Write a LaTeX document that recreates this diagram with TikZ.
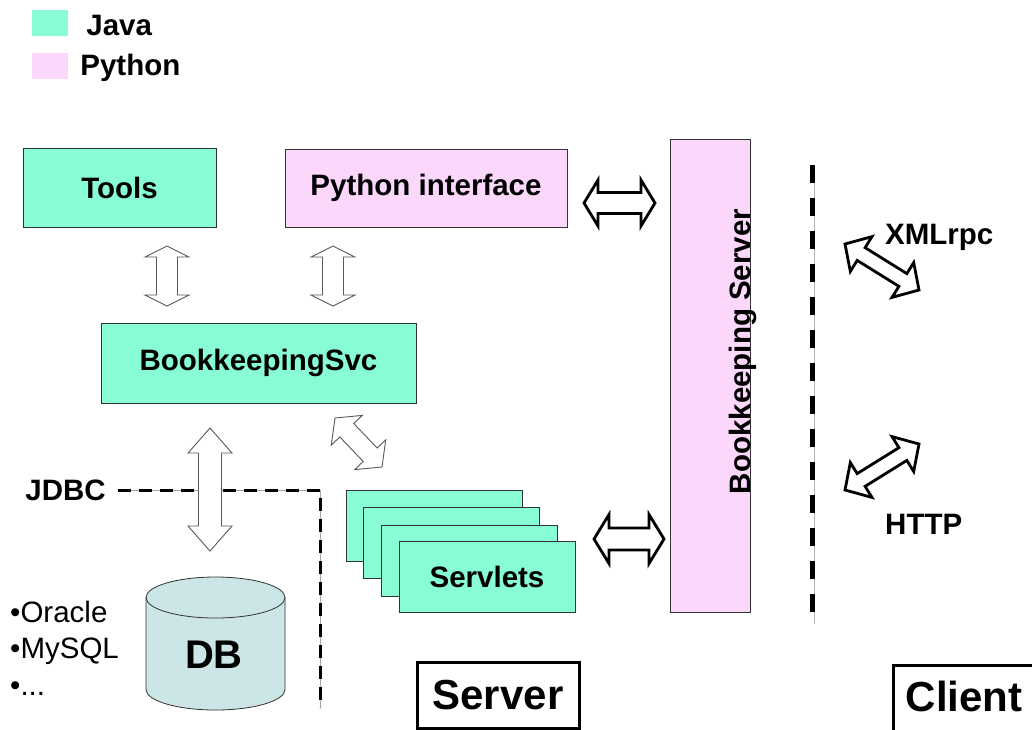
\documentclass[tikz,border=0pt]{standalone}
\usepackage{fontspec}
\setmainfont{Liberation Sans}
\usetikzlibrary{positioning,calc}

\definecolor{javagreen}{RGB}{136,252,212}
\definecolor{pypink}{RGB}{251,215,251}
\definecolor{dbblue}{RGB}{204,229,230}

% hollow double arrow: [style]{from}{to}{head length}{head half width}{shaft half width}
\newcommand{\dblarrow}[6][]{%
  \coordinate (da1) at ($(#2)!#4pt!(#3)$);
  \coordinate (da2) at ($(#3)!#4pt!(#2)$);
  \draw[#1] (#2) -- ($(da1)!#5pt!90:(#3)$) -- ($(da1)!#6pt!90:(#3)$)
    -- ($(da2)!#6pt!-90:(#2)$) -- ($(da2)!#5pt!-90:(#2)$) -- (#3)
    -- ($(da2)!#5pt!90:(#2)$) -- ($(da2)!#6pt!90:(#2)$)
    -- ($(da1)!#6pt!-90:(#3)$) -- ($(da1)!#5pt!-90:(#3)$) -- cycle;
}

\begin{document}
\begin{tikzpicture}[
  x=1pt, y=-1pt,
  every node/.style={font=\fontsize{29.5}{34}\selectfont\bfseries, inner sep=0pt},
  java/.style={draw=black!80, line width=1pt, fill=javagreen},
  python/.style={draw=black!80, line width=1pt, fill=pypink},
  tag/.style={draw=black, line width=3pt, font=\fontsize{42}{48}\selectfont\bfseries},
  plain/.style={font=\fontsize{29.5}{34}\selectfont},
  thinarrow/.style={draw=black!65, line width=0.9pt, fill=white},
  fatarrow/.style={draw=black, line width=2.8pt, fill=white, line join=miter},
  sepline/.style={line width=5pt, dash pattern=on 18pt off 15pt},
  jdbcline/.style={line width=3pt, dash pattern=on 13pt off 8pt}
]
\clip (0,0) rectangle (1032,729);

% Legend
\node[fill=javagreen, minimum width=36pt, minimum height=26pt] (javakey) at (50,23) {};
\node[right=18pt of javakey, yshift=-2pt] (javatxt) {Java};
\node[fill=pypink, minimum width=36pt, minimum height=26pt] (pykey) at (50,66) {};
\node[right=12pt of pykey, yshift=-2pt] (pytxt) {Python};

% Boxes
\node[java, minimum width=193pt, minimum height=79pt] (tools) at (119.5,188) {Tools};
\node[python, minimum width=282pt, minimum height=78pt] (pyif) at (426,188) {Python interface};
\node[java, minimum width=315pt, minimum height=80pt] (bksvc) at (258.5,363) {BookkeepingSvc};
\node[python, minimum width=80pt, minimum height=473pt] (bksrv) at (710.5,375.5) {};
\node[rotate=90, anchor=base] (bksrvtxt) at (750,351.5) {Bookkeeping Server};

% Servlets stack
\node[java, minimum width=176pt, minimum height=71pt] (sv1) at (434,525.5) {};
\node[java, minimum width=176pt, minimum height=71pt] (sv2) at (451.5,542.5) {};
\node[java, minimum width=176pt, minimum height=71pt] (sv3) at (469.5,560.5) {};
\node[java, minimum width=176pt, minimum height=71pt] (sv4) at (487,577) {Servlets};

% DB
\filldraw[fill=dbblue, draw=black!80, line width=0.8pt] (146,597.5) -- (146,689.5)
  arc[start angle=180, end angle=360, x radius=69.5pt, y radius=20.5pt] -- (285,597.5)
  arc[start angle=0, end angle=180, x radius=69.5pt, y radius=20.5pt] -- cycle;
\draw[black!80, line width=0.8pt] (146,597.5) arc[start angle=180, end angle=360, x radius=69.5pt, y radius=20.5pt];
\node[font=\fontsize{40}{46}\selectfont\bfseries] (db) at (214,655) {DB};

% Databases
\node[plain, anchor=base west] (oracle) at (10,622) {•Oracle};
\node[plain, anchor=base west] (mysql) at (10,658) {•MySQL};
\node[plain, anchor=base west] (others) at (10,695) {•...};

% JDBC boundary
\node[anchor=east] (jdbc) at (106,490) {JDBC};
\coordinate (jdbccorner) at (320,490);
\coordinate (jdbcend) at (320,708);
\draw[black!35, line width=0.8pt] ([xshift=12pt]jdbc.east) -- (jdbccorner) -- (jdbcend);
\draw[jdbcline] ([xshift=12pt]jdbc.east) -- (jdbccorner) -- (jdbcend);

% Server / client boundary
\coordinate (septop) at (812,165);
\coordinate (sepbot) at (812,624);
\draw[black!30, line width=0.8pt] ([xshift=2pt]septop) -- ([xshift=2pt]sepbot);
\draw[sepline] (septop) -- (sepbot);

% Arrow ends
\coordinate (a1) at (167,246);   \coordinate (a2) at (167,306);
\coordinate (b1) at (333,246);   \coordinate (b2) at (333,306);
\coordinate (c1) at (210,428);   \coordinate (c2) at (210,551);
\coordinate (d1) at (335,418);   \coordinate (d2) at (382,467);
\coordinate (e1) at (584,203);   \coordinate (e2) at (655,203);
\coordinate (f1) at (594,539);   \coordinate (f2) at (664,539);
\coordinate (g1) at (845,244);   \coordinate (g2) at (919,290);
\coordinate (h1) at (845,490);   \coordinate (h2) at (919,444);

% Arrows
\dblarrow[thinarrow]{a1}{a2}{11}{22}{10.5}
\dblarrow[thinarrow]{b1}{b2}{11}{22}{10.5}
\dblarrow[thinarrow]{c1}{c2}{25}{22}{11.5}
\dblarrow[thinarrow]{d1}{d2}{17}{21.5}{9.7}
\dblarrow[fatarrow]{e1}{e2}{14}{23}{10.5}
\dblarrow[fatarrow]{f1}{f2}{15}{24.5}{11}
\dblarrow[fatarrow]{g1}{g2}{19}{20.5}{7.5}
\dblarrow[fatarrow]{h1}{h2}{19}{20.5}{7.5}

% Protocol labels
\node[anchor=west] (xmlrpc) at (885,237) {XMLrpc};
\node[anchor=west] (http) at (885,524) {HTTP};

% Server / Client tags
\node[tag, minimum width=162pt, minimum height=66pt] (server) at (498,695) {Server};
\node[tag, minimum width=142pt, minimum height=90pt, text depth=27pt] (client) at (964,710) {Client};

\end{tikzpicture}
\end{document}
